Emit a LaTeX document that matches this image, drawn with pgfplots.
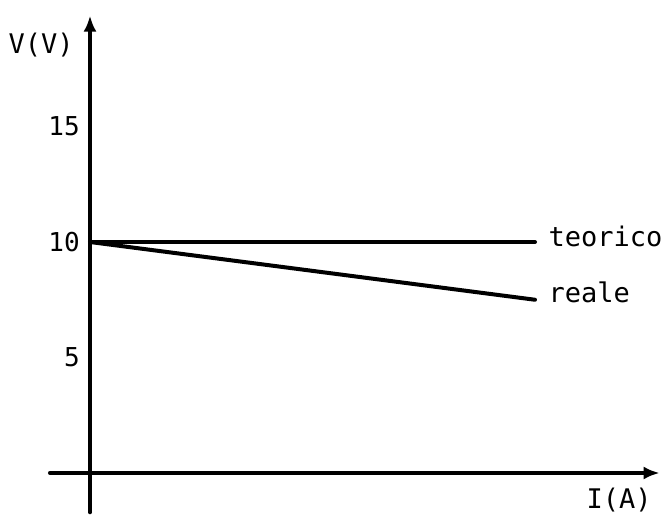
\documentclass[border=0pt]{standalone}
\usepackage{pgfplots}
\pgfplotsset{compat=1.18}
\usepackage{fontspec}
\setmainfont{DejaVu Sans Mono}
\usetikzlibrary{arrows.meta}
\begin{document}
\fontsize{27}{31}\selectfont
\begin{tikzpicture}
\useasboundingbox (-90pt,-43pt) rectangle (581pt,473pt);
\begin{axis}[
  x=44.5pt, y=23.1pt, anchor=origin, at={(0pt,0pt)},
  axis lines=middle,
  xmin=-0.9, xmax=12.8, ymin=-1.7, ymax=19.8,
  ytick={5,10,15}, xtick=\empty,
  major tick length=0pt,
  axis line style={line width=4pt, line cap=round, -{Latex[length=16pt,width=13pt]}},
  clip=false,
  /pgf/number format/assume math mode=true,
  yticklabel style={xshift=-1pt, font=\fontsize{26}{30}\selectfont},
]
\addplot[black, line width=4pt, line cap=round] coordinates {(0,10) (10,10)};
\addplot[black, line width=4pt, line cap=round] coordinates {(0,10) (10,7.5)};
\node[anchor=west, inner sep=0pt] at (axis cs:10.3,10.25) {teorico};
\node[anchor=west, inner sep=0pt] at (axis cs:10.3,7.8) {reale};
\node at (axis cs:-1.10,18.53) {V(V)};
\node at (axis cs:11.89,-1.17) {I(A)};
\end{axis}
\end{tikzpicture}
\end{document}
